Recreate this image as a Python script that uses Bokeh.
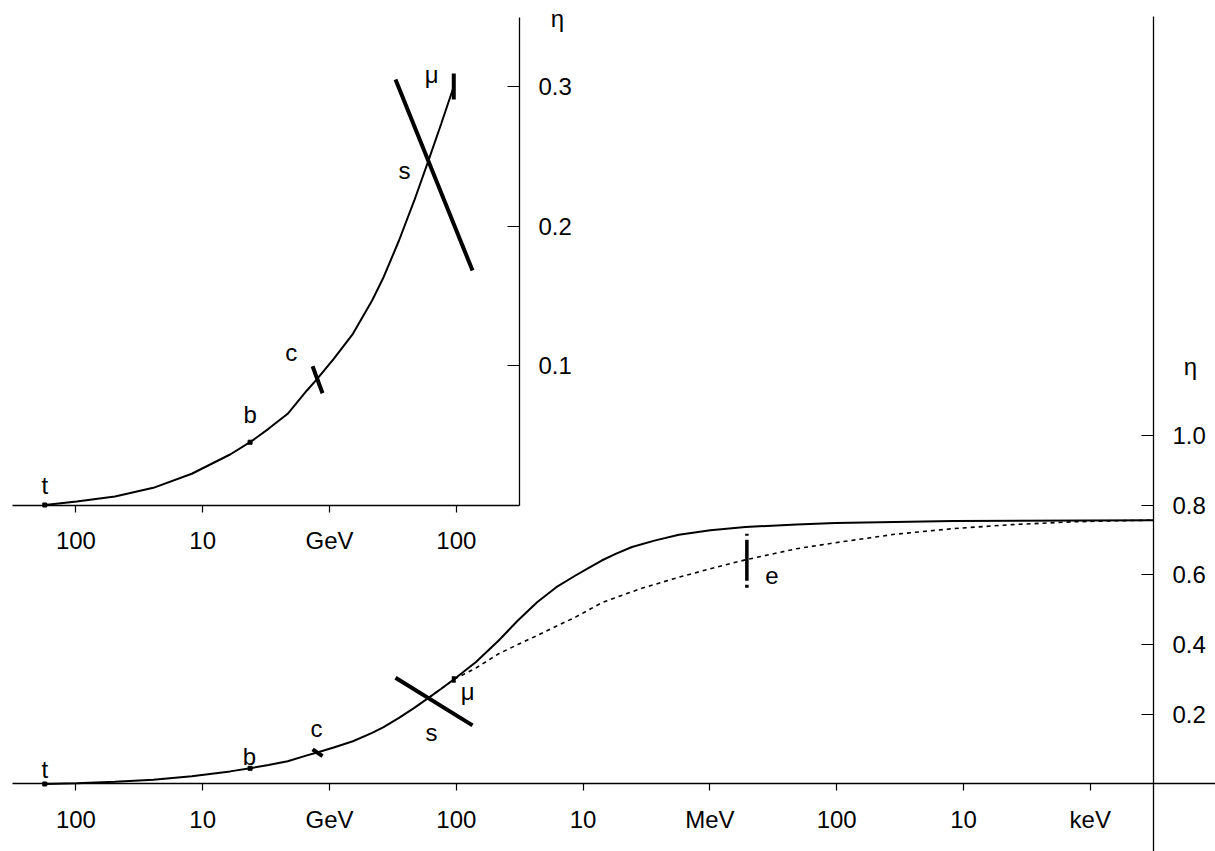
from bokeh.plotting import figure
from bokeh.models import (Range1d, LinearScale, LogAxis, LinearAxis, FixedTicker,
                          ColumnDataSource, PrintfTickFormatter)
from bokeh.core.properties import value
from bokeh.embed import file_html
from bokeh.resources import INLINE

# ---------------- data (temperature in GeV, effective eta) ----------------
temp_solid = [176, 98.6, 49.2, 24.5, 12.19, 6.08, 4.23, 3.03, 2.137, 1.507, 1.25, 0.9266,
              0.6536, 0.4613, 0.3745, 0.2831, 0.2144, 0.1656, 0.1315, 0.1047,
              0.0866, 0.0703, 0.0463, 0.0327, 0.02306, 0.01627, 0.01148, 0.00931, 0.00714,
              0.00548, 0.00412, 0.00269, 0.001756, 0.000993, 0.000524, 0.000207, 0.000102,
              3.5e-5, 1.2e-5, 3.18e-7]
eta_solid = [0.0, 0.0025, 0.0061, 0.0123, 0.0224, 0.0362, 0.0450, 0.0546, 0.0654, 0.0821, 0.0904, 0.1048,
             0.1227, 0.1466, 0.1633, 0.1896, 0.2183, 0.2470, 0.2733, 0.3000,
             0.3237, 0.3495, 0.4118, 0.4692, 0.5217, 0.5647, 0.5983, 0.6175, 0.6413,
             0.661, 0.680, 0.699, 0.7154, 0.728, 0.7377, 0.7444, 0.749,
             0.752, 0.755, 0.757]

temp_dotted = [0.1656, 0.1315, 0.1047, 0.0703, 0.0463, 0.0327, 0.02306, 0.01627, 0.01148,
               0.00714, 0.003579, 0.001756, 0.000993, 0.000524, 0.000207, 0.000102, 3.5e-5,
               1.2e-5, 4.12e-6, 1.417e-6, 6.93e-7, 3.18e-7]
eta_dotted = [0.2470, 0.2733, 0.3000, 0.3323, 0.3736, 0.4003, 0.4261, 0.4529, 0.4787,
              0.5200, 0.5598, 0.5934, 0.6175, 0.6433, 0.6752, 0.6924, 0.7165,
              0.7329, 0.7443, 0.7521, 0.755, 0.757]

tick_temps = [100, 10, 1, 0.1, 0.01, 0.001, 1e-4, 1e-5, 1e-6]
tick_labels = ["100", "10", "GeV", "100", "10", "MeV", "100", "10", "keV"]
main_eta_ticks = [0.2, 0.4, 0.6, 0.8, 1.0]
inset_eta_ticks = [0.1, 0.2, 0.3]

# particle thresholds
label_names = ["t", "b", "c", "s", "μ", "e"]
label_temp = [176, 4.23, 1.25, 0.1656, 0.1047, 5.11e-4]
label_eta = [0.0, 0.0450, 0.09, 0.245, 0.300, 0.643]

dot_temp = [176, 4.23]          # t, b
dot_eta = [0.0, 0.0450]

seg_t0 = [1.36, 0.3016, 0.1047]   # c, s, mu
seg_e0 = [0.0995, 0.305, 0.3093]
seg_t1 = [1.135, 0.0745, 0.1047]
seg_e1 = [0.0801, 0.1681, 0.2907]

e_temp = [5.11e-4]
e_eta_top = [0.718]
e_eta_bottom = [0.561]

# ---------------- styling / layout ----------------
FONT = "Liberation Sans"
FS = "24px"

p = figure(width=1215, height=851, x_axis_type="log",
           x_range=Range1d(393.25, 1.0295e-7), y_range=Range1d(-0.19369, 2.24821),
           x_axis_location=None, y_axis_location=None,
           output_backend="svg", toolbar_location=None, min_border=0)
p.outline_line_color = None
p.grid.visible = False
p.extra_y_ranges = {"inset": Range1d(-0.248387, 0.361649)}
p.extra_y_scales = {"inset": LinearScale()}

main_axis_T = 3.1737e-7
inset_axis_T = 0.03174


def style_axis(ax):
    ax.axis_line_color = "black"
    ax.axis_line_width = 1.3
    ax.major_tick_line_color = "black"
    ax.major_tick_line_width = 1.2
    ax.minor_tick_line_color = None
    ax.major_label_text_font = FONT
    ax.major_label_text_font_size = FS
    ax.major_label_text_color = "black"


overrides = {t: l for t, l in zip(tick_temps, tick_labels)}
inset_ticks = [t for t in tick_temps if t >= inset_axis_T]

# main x axis
ax = LogAxis(ticker=FixedTicker(ticks=tick_temps, minor_ticks=[]), fixed_location=0,
             bounds=(1.0e-7, 316.23), major_label_overrides=overrides,
             major_tick_in=0, major_tick_out=7, major_label_standoff=15)
style_axis(ax)
p.add_layout(ax, "below")

# inset x axis
ax = LogAxis(ticker=FixedTicker(ticks=inset_ticks, minor_ticks=[]), fixed_location=0,
             y_range_name="inset", bounds=(inset_axis_T, 316.23),
             major_label_overrides=overrides,
             major_tick_in=0, major_tick_out=7, major_label_standoff=15)
style_axis(ax)
p.add_layout(ax, "below")

# main y axis (right)
ay = LinearAxis(ticker=FixedTicker(ticks=main_eta_ticks, minor_ticks=[]),
                fixed_location=main_axis_T, bounds=(-0.19369, 2.2023),
                formatter=PrintfTickFormatter(format="%.1f"),
                major_tick_in=12, major_tick_out=0, major_label_standoff=19)
style_axis(ay)
p.add_layout(ay, "right")

# inset y axis (right)
ay = LinearAxis(ticker=FixedTicker(ticks=inset_eta_ticks, minor_ticks=[]),
                fixed_location=inset_axis_T, y_range_name="inset", bounds=(0, 0.34946),
                formatter=PrintfTickFormatter(format="%.1f"),
                major_tick_in=12, major_tick_out=0, major_label_standoff=19)
style_axis(ay)
p.add_layout(ay, "right")

# ---------------- main panel ----------------
p.line(temp_dotted, eta_dotted, line_color="black", line_width=1.6, line_dash="4 4")
p.line(temp_solid, eta_solid, line_color="black", line_width=2)
p.segment(seg_t0, seg_e0, seg_t1, seg_e1, line_color="black", line_width=4)
p.scatter(dot_temp, dot_eta, marker="square", size=4, color="black")
p.segment(e_temp, e_eta_top, e_temp, e_eta_bottom, line_color="black", line_width=3.5,
          line_dash="2 4 41 4 3")

main_lbl = ColumnDataSource(dict(T=label_temp, eta=label_eta, name=label_names,
                                 dx=[0, -0.6, -0.7, 3, 14, 25],
                                 dy=[-14.5, -12, -24, 34, 12, 16]))
p.text(x="T", y="eta", text="name", x_offset="dx", y_offset="dy", source=main_lbl,
       text_font=value(FONT), text_font_size=value(FS), text_align="center",
       text_baseline="alphabetic", text_color="black")

# ---------------- inset ----------------
mu_T = label_temp[4]
inset_T = [t for t in temp_solid if t >= mu_T]
inset_eta = [e for t, e in zip(temp_solid, eta_solid) if t >= mu_T]
p.line(inset_T, inset_eta, line_color="black", line_width=2, y_range_name="inset")
p.segment(seg_t0, seg_e0, seg_t1, seg_e1, line_color="black", line_width=4,
          y_range_name="inset")
p.scatter(dot_temp, dot_eta, marker="square", size=4, color="black", y_range_name="inset")

inset_lbl = ColumnDataSource(dict(T=label_temp[:5], eta=label_eta[:5], name=label_names[:5],
                                  dx=[0, 0, -26, -24, -22],
                                  dy=[-20, -27.3, -27, 7.3, -12]))
p.text(x="T", y="eta", text="name", x_offset="dx", y_offset="dy", source=inset_lbl,
       text_font=value(FONT), text_font_size=value(FS), text_align="center",
       text_baseline="alphabetic", text_color="black", y_range_name="inset")

# eta axis titles
p.text(x=[main_axis_T], y=[1.175], text=["η"], x_offset=[37], y_offset=[-8],
       text_font=value(FONT), text_font_size=value(FS), text_align="center",
       text_baseline="alphabetic", text_color="black")
p.text(x=[inset_axis_T], y=[0.343], text=["η"], x_offset=[38], y_offset=[-8],
       text_font=value(FONT), text_font_size=value(FS), text_align="center",
       text_baseline="alphabetic", text_color="black", y_range_name="inset")

open("out.html", "w").write(file_html(p, INLINE))
